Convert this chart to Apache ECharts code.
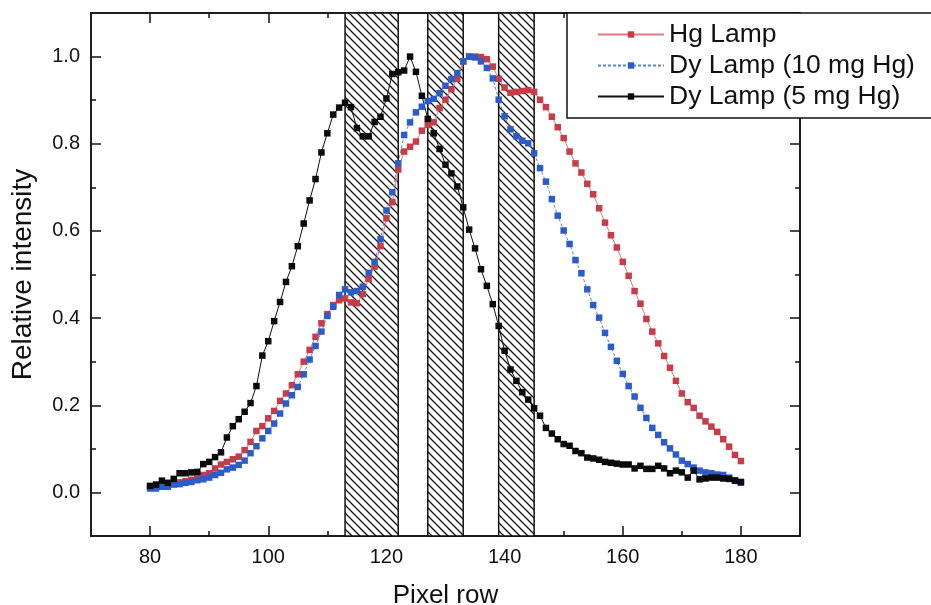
<!DOCTYPE html>
<html>
<head>
<meta charset="utf-8">
<script src="https://cdn.jsdelivr.net/npm/echarts@6/dist/echarts.min.js"></script>
<style>html,body{margin:0;padding:0;background:#fff;}#c{width:931px;height:605px;}</style>
</head>
<body>
<div id="c"></div>
<script>
var firstRow = 80;
var hgLamp = [0.012,0.013,0.015,0.017,0.020,0.023,0.026,0.029,0.033,0.040,
0.044,0.055,0.064,0.070,0.076,0.082,0.097,0.116,0.141,0.152,
0.170,0.187,0.210,0.227,0.246,0.271,0.300,0.327,0.357,0.388,
0.409,0.430,0.441,0.445,0.436,0.434,0.455,0.490,0.518,0.565,
0.629,0.666,0.741,0.782,0.793,0.805,0.830,0.843,0.849,0.882,
0.901,0.925,0.949,0.989,1.000,1.000,0.999,0.994,0.977,0.949,
0.929,0.917,0.919,0.921,0.923,0.919,0.901,0.884,0.862,0.838,
0.813,0.782,0.755,0.734,0.708,0.684,0.652,0.619,0.590,0.562,
0.529,0.497,0.462,0.433,0.398,0.369,0.342,0.313,0.286,0.256,
0.227,0.207,0.194,0.176,0.163,0.151,0.139,0.122,0.105,0.086,
0.072];
var dy10 = [0.009,0.009,0.013,0.013,0.018,0.019,0.022,0.024,0.028,0.030,
0.034,0.040,0.045,0.053,0.057,0.063,0.073,0.090,0.106,0.124,
0.141,0.158,0.181,0.204,0.223,0.242,0.271,0.305,0.336,0.369,
0.405,0.426,0.453,0.466,0.459,0.462,0.472,0.504,0.529,0.581,
0.647,0.689,0.755,0.820,0.849,0.872,0.885,0.898,0.903,0.916,
0.933,0.948,0.962,0.989,1.000,0.998,0.989,0.974,0.950,0.901,
0.863,0.833,0.817,0.807,0.801,0.778,0.744,0.713,0.673,0.635,
0.601,0.570,0.533,0.503,0.466,0.430,0.401,0.366,0.334,0.302,
0.272,0.244,0.220,0.194,0.171,0.148,0.132,0.115,0.101,0.087,
0.073,0.065,0.057,0.050,0.046,0.044,0.041,0.040,0.034,0.028,
0.022];
var dy5 = [0.015,0.018,0.027,0.022,0.031,0.044,0.044,0.046,0.047,0.065,
0.070,0.081,0.092,0.126,0.152,0.168,0.185,0.205,0.244,0.314,
0.347,0.393,0.437,0.483,0.519,0.565,0.617,0.670,0.719,0.780,
0.824,0.867,0.883,0.894,0.884,0.836,0.817,0.817,0.850,0.862,
0.904,0.960,0.964,0.968,1.000,0.965,0.910,0.857,0.824,0.788,
0.752,0.732,0.702,0.654,0.603,0.560,0.512,0.474,0.432,0.382,
0.325,0.282,0.256,0.230,0.213,0.193,0.176,0.148,0.135,0.122,
0.111,0.107,0.095,0.090,0.080,0.078,0.075,0.070,0.068,0.066,
0.064,0.064,0.055,0.061,0.054,0.054,0.061,0.055,0.044,0.050,
0.046,0.034,0.050,0.030,0.032,0.034,0.034,0.032,0.031,0.027,
0.024];
var bands = [[113,122],[127,133],[139,145]];
var xMajor = [80,100,120,140,160,180];
var xMinor = [90,110,130,150,170];
var yMajor = [0,0.2,0.4,0.6,0.8,1.0];
var yMinor = [0.1,0.3,0.5,0.7,0.9];
var seriesNames = ['Hg Lamp','Dy Lamp (10 mg Hg)','Dy Lamp (5 mg Hg)'];

function pairs(vals){ return vals.map(function(v,i){ return [firstRow+i, v]; }); }

var P = 8;
var pc = document.createElement('canvas');
pc.width = P; pc.height = P;
var g = pc.getContext('2d');
g.fillStyle = '#fff'; g.fillRect(0,0,P,P);
g.strokeStyle = '#111'; g.lineWidth = 1.3;
g.beginPath();
g.moveTo(-1,-1); g.lineTo(P+1,P+1);
g.moveTo(-1,P-1); g.lineTo(1,P+1);
g.moveTo(P-1,-1); g.lineTo(P+1,1);
g.stroke();

var FONT = 'Liberation Sans, Arial, Helvetica, sans-serif';
var AX = '#111';
function xAx(pos, vals, len, labels, extra){
  var o = {type:'value', min:70, max:190, position:pos,
    axisLine:{show:true, onZero:false, lineStyle:{color:AX, width:1.5}},
    axisTick:{show:true, inside:true, length:len, customValues:vals, lineStyle:{color:AX, width:1.5}},
    axisLabel:labels ? {show:true, customValues:vals, fontSize:20, color:'#111', margin:11, fontFamily:FONT} : {show:false},
    splitLine:{show:false}};
  return Object.assign(o, extra||{});
}
function yAx(pos, vals, len, labels, extra){
  var o = {type:'value', min:-0.1, max:1.1, position:pos,
    axisLine:{show:true, onZero:false, lineStyle:{color:AX, width:1.5}},
    axisTick:{show:true, inside:true, length:len, customValues:vals, lineStyle:{color:AX, width:1.5}},
    axisLabel:labels ? {show:true, customValues:vals, fontSize:20, color:'#111', margin:11, fontFamily:FONT,
      formatter:function(v){return v.toFixed(1);}} : {show:false},
    splitLine:{show:false}};
  return Object.assign(o, extra||{});
}

var chart = echarts.init(document.getElementById('c'), null, {renderer:'canvas'});
chart.setOption({
  animation:false,
  backgroundColor:'#fff',
  grid:{left:91, top:13, right:131, bottom:69, outerBoundsMode:'none', containLabel:false},
  xAxis:[
    xAx('bottom', xMajor, 10, true, {name:'Pixel row', nameLocation:'middle', nameGap:47,
      nameTextStyle:{fontSize:26, color:'#111', fontFamily:FONT}}),
    xAx('bottom', xMinor, 5, false),
    xAx('top', xMajor, 10, false),
    xAx('top', xMinor, 5, false)
  ],
  yAxis:[
    yAx('left', yMajor, 10, true, {name:'Relative intensity', nameLocation:'middle', nameGap:54,
      nameTextStyle:{fontSize:28, color:'#111', fontFamily:FONT}}),
    yAx('left', yMinor, 5, false),
    yAx('right', yMajor, 10, false),
    yAx('right', yMinor, 5, false)
  ],
  legend:{
    orient:'vertical', left:597, top:19, itemWidth:66, itemHeight:8, itemGap:0, padding:0, z:20,
    data:seriesNames,
    textStyle:{fontSize:26.5, lineHeight:31, color:'#111', fontFamily:FONT}
  },
  graphic:[{type:'rect', z:15, shape:{x:567, y:13, width:420, height:105},
    style:{fill:'#fff', stroke:'#111', lineWidth:1.5}}],
  series:[
    {name:seriesNames[0], type:'line', data:pairs(hgLamp), symbol:'rect', symbolSize:6.5,
     itemStyle:{color:'#c63c48'}, lineStyle:{color:'#e07a80', width:1},
     markArea:{silent:true, itemStyle:{color:{image:pc, repeat:'repeat'}, borderColor:'#111', borderWidth:1.5},
       data:bands.map(function(b){return [{xAxis:b[0]},{xAxis:b[1]}];})}},
    {name:seriesNames[1], type:'line', data:pairs(dy10), symbol:'rect', symbolSize:6.5,
     itemStyle:{color:'#2b5cc9'}, lineStyle:{color:'#5a86dc', width:1, type:[3,2]}},
    {name:seriesNames[2], type:'line', data:pairs(dy5), symbol:'rect', symbolSize:6.5,
     itemStyle:{color:'#0a0a0a'}, lineStyle:{color:'#111', width:1}}
  ]
});
</script>
</body>
</html>
